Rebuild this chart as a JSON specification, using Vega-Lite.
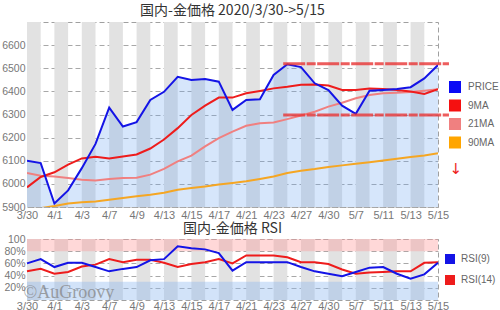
{
  "$schema": "https://vega.github.io/schema/vega-lite/v6.json",
  "background": "white",
  "padding": {"left": 0, "top": 3, "right": 0, "bottom": 0},
  "config": {
    "font": "Liberation Sans",
    "view": {"stroke": "#a0a0a0", "strokeDash": [5, 3], "strokeWidth": 1},
    "axis": {"labelColor": "#777777", "labelFontSize": 11, "ticks": false, "domain": false, "grid": false, "title": null, "labelFont": "Liberation Sans", "labelOverlap": false},
    "title": {"font": "Noto Sans CJK JP", "fontSize": 14, "fontWeight": "normal", "color": "#333333", "anchor": "middle"},
    "legend": {"padding": 0, "labelColor": "#666666", "labelFontSize": 10, "labelFont": "Liberation Sans"},
    "concat": {"spacing": 0}
  },
  "datasets": {
    "days": [
      {"i": 0, "d": "3/30", "PRICE": 6100, "9MA": 5985, "21MA": 6047, "90MA": 5885, "RSI(9)": 60, "RSI(14)": 47},
      {"i": 1, "d": "3/31", "PRICE": 6090, "9MA": 6030, "21MA": 6035, "90MA": 5895, "RSI(9)": 67, "RSI(14)": 51},
      {"i": 2, "d": "4/1", "PRICE": 5915, "9MA": 6050, "21MA": 6032, "90MA": 5904, "RSI(9)": 54, "RSI(14)": 43},
      {"i": 3, "d": "4/2", "PRICE": 5972, "9MA": 6083, "21MA": 6025, "90MA": 5915, "RSI(9)": 61, "RSI(14)": 46},
      {"i": 4, "d": "4/3", "PRICE": 6068, "9MA": 6110, "21MA": 6018, "90MA": 5921, "RSI(9)": 61, "RSI(14)": 55},
      {"i": 5, "d": "4/6", "PRICE": 6173, "9MA": 6117, "21MA": 6015, "90MA": 5924, "RSI(9)": 54, "RSI(14)": 58},
      {"i": 6, "d": "4/7", "PRICE": 6330, "9MA": 6110, "21MA": 6021, "90MA": 5931, "RSI(9)": 47, "RSI(14)": 67},
      {"i": 7, "d": "4/8", "PRICE": 6248, "9MA": 6118, "21MA": 6025, "90MA": 5939, "RSI(9)": 51, "RSI(14)": 62},
      {"i": 8, "d": "4/9", "PRICE": 6267, "9MA": 6127, "21MA": 6027, "90MA": 5946, "RSI(9)": 54, "RSI(14)": 66},
      {"i": 9, "d": "4/10", "PRICE": 6363, "9MA": 6153, "21MA": 6040, "90MA": 5953, "RSI(9)": 65, "RSI(14)": 66},
      {"i": 10, "d": "4/13", "PRICE": 6398, "9MA": 6192, "21MA": 6065, "90MA": 5962, "RSI(9)": 67, "RSI(14)": 61},
      {"i": 11, "d": "4/14", "PRICE": 6463, "9MA": 6241, "21MA": 6097, "90MA": 5975, "RSI(9)": 88, "RSI(14)": 54},
      {"i": 12, "d": "4/15", "PRICE": 6449, "9MA": 6298, "21MA": 6122, "90MA": 5982, "RSI(9)": 85, "RSI(14)": 59},
      {"i": 13, "d": "4/16", "PRICE": 6453, "9MA": 6338, "21MA": 6162, "90MA": 5989, "RSI(9)": 83, "RSI(14)": 62},
      {"i": 14, "d": "4/17", "PRICE": 6442, "9MA": 6373, "21MA": 6198, "90MA": 5997, "RSI(9)": 77, "RSI(14)": 67},
      {"i": 15, "d": "4/20", "PRICE": 6320, "9MA": 6373, "21MA": 6226, "90MA": 6004, "RSI(9)": 48, "RSI(14)": 60},
      {"i": 16, "d": "4/21", "PRICE": 6363, "9MA": 6392, "21MA": 6251, "90MA": 6011, "RSI(9)": 62, "RSI(14)": 73},
      {"i": 17, "d": "4/22", "PRICE": 6366, "9MA": 6402, "21MA": 6262, "90MA": 6021, "RSI(9)": 62, "RSI(14)": 73},
      {"i": 18, "d": "4/23", "PRICE": 6471, "9MA": 6413, "21MA": 6265, "90MA": 6032, "RSI(9)": 62, "RSI(14)": 73},
      {"i": 19, "d": "4/24", "PRICE": 6517, "9MA": 6420, "21MA": 6280, "90MA": 6047, "RSI(9)": 62, "RSI(14)": 70},
      {"i": 20, "d": "4/27", "PRICE": 6505, "9MA": 6429, "21MA": 6296, "90MA": 6057, "RSI(9)": 54, "RSI(14)": 62},
      {"i": 21, "d": "4/28", "PRICE": 6435, "9MA": 6430, "21MA": 6312, "90MA": 6064, "RSI(9)": 47, "RSI(14)": 62},
      {"i": 22, "d": "4/30", "PRICE": 6406, "9MA": 6425, "21MA": 6334, "90MA": 6073, "RSI(9)": 43, "RSI(14)": 59},
      {"i": 23, "d": "5/1", "PRICE": 6338, "9MA": 6406, "21MA": 6351, "90MA": 6080, "RSI(9)": 39, "RSI(14)": 50},
      {"i": 24, "d": "5/7", "PRICE": 6303, "9MA": 6406, "21MA": 6370, "90MA": 6087, "RSI(9)": 46, "RSI(14)": 43},
      {"i": 25, "d": "5/8", "PRICE": 6403, "9MA": 6412, "21MA": 6384, "90MA": 6094, "RSI(9)": 53, "RSI(14)": 45},
      {"i": 26, "d": "5/11", "PRICE": 6406, "9MA": 6410, "21MA": 6392, "90MA": 6101, "RSI(9)": 54, "RSI(14)": 46},
      {"i": 27, "d": "5/12", "PRICE": 6410, "9MA": 6406, "21MA": 6394, "90MA": 6109, "RSI(9)": 43, "RSI(14)": 47},
      {"i": 28, "d": "5/13", "PRICE": 6418, "9MA": 6399, "21MA": 6397, "90MA": 6116, "RSI(9)": 35, "RSI(14)": 47},
      {"i": 29, "d": "5/14", "PRICE": 6456, "9MA": 6389, "21MA": 6403, "90MA": 6123, "RSI(9)": 42, "RSI(14)": 61},
      {"i": 30, "d": "5/15", "PRICE": 6514, "9MA": 6409, "21MA": 6409, "90MA": 6133, "RSI(9)": 61, "RSI(14)": 62}
    ],
    "bands": [
      {"a": 0, "b": 1}, {"a": 2, "b": 3}, {"a": 4, "b": 5}, {"a": 6, "b": 7}, {"a": 8, "b": 9},
      {"a": 10, "b": 11}, {"a": 12, "b": 13}, {"a": 14, "b": 15}, {"a": 16, "b": 17}, {"a": 18, "b": 19},
      {"a": 20, "b": 21}, {"a": 22, "b": 23}, {"a": 24, "b": 25}, {"a": 26, "b": 27}, {"a": 28, "b": 29}
    ],
    "levels": [
      {"lv": 6520, "from": 18.7, "to": 30.8},
      {"lv": 6298, "from": 18.7, "to": 30.8}
    ]
  },
  "resolve": {
    "scale": {"color": "independent", "x": "independent", "y": "independent"},
    "legend": {"color": "independent"}
  },
  "vconcat": [
    {
      "width": 411,
      "height": 185,
      "title": {"text": "国内-金価格 2020/3/30->5/15", "offset": 4},
      "layer": [
        {
          "data": {"name": "bands"},
          "mark": {"type": "rect", "color": "#e2e2e2"},
          "encoding": {
            "x": {"field": "a", "type": "quantitative",
              "scale": {"domain": [0, 30], "nice": false, "zero": false},
              "axis": {"values": [0, 2, 4, 6, 8, 10, 12, 14, 16, 18, 20, 22, 24, 26, 28, 30],
                "labelExpr": "['3/30','3/31','4/1','4/2','4/3','4/6','4/7','4/8','4/9','4/10','4/13','4/14','4/15','4/16','4/17','4/20','4/21','4/22','4/23','4/24','4/27','4/28','4/30','5/1','5/7','5/8','5/11','5/12','5/13','5/14','5/15'][datum.value]",
                "labelFlush": false, "labelOverlap": false, "labelPadding": 2}},
            "x2": {"field": "b"}
          }
        },
        {
          "data": {"name": "days"},
          "mark": {"type": "area", "color": "#6aa6f2", "opacity": 0.28, "clip": true},
          "encoding": {
            "x": {"field": "i", "type": "quantitative",
              "axis": {"values": [0, 2, 4, 6, 8, 10, 12, 14, 16, 18, 20, 22, 24, 26, 28, 30],
                "labelExpr": "['3/30','3/31','4/1','4/2','4/3','4/6','4/7','4/8','4/9','4/10','4/13','4/14','4/15','4/16','4/17','4/20','4/21','4/22','4/23','4/24','4/27','4/28','4/30','5/1','5/7','5/8','5/11','5/12','5/13','5/14','5/15'][datum.value]",
                "labelFlush": false, "labelOverlap": false, "labelPadding": 2}},
            "y": {"field": "PRICE", "type": "quantitative",
              "scale": {"domain": [5900, 6700], "nice": false, "zero": false},
              "axis": {"values": [5900, 6000, 6100, 6200, 6300, 6400, 6500, 6600], "format": "d", "grid": true, "labelOverlap": false,
                "gridColor": "#a8a8a8", "gridDash": [5, 3], "labelPadding": 2, "minExtent": 26, "maxExtent": 26, "labelFontSize": 10.5}}
          }
        },
        {
          "data": {"name": "days"},
          "transform": [{"fold": ["90MA", "21MA", "9MA", "PRICE"], "as": ["s", "v"]}],
          "mark": {"type": "line", "strokeWidth": 2, "clip": true},
          "encoding": {
            "x": {"field": "i", "type": "quantitative",
              "axis": {"values": [0, 2, 4, 6, 8, 10, 12, 14, 16, 18, 20, 22, 24, 26, 28, 30],
                "labelExpr": "['3/30','3/31','4/1','4/2','4/3','4/6','4/7','4/8','4/9','4/10','4/13','4/14','4/15','4/16','4/17','4/20','4/21','4/22','4/23','4/24','4/27','4/28','4/30','5/1','5/7','5/8','5/11','5/12','5/13','5/14','5/15'][datum.value]",
                "labelFlush": false, "labelOverlap": false, "labelPadding": 2}},
            "y": {"field": "v", "type": "quantitative",
              "axis": {"values": [5900, 6000, 6100, 6200, 6300, 6400, 6500, 6600], "format": "d", "grid": true, "labelOverlap": false,
                "gridColor": "#a8a8a8", "gridDash": [5, 3], "labelPadding": 2, "minExtent": 26, "maxExtent": 26, "labelFontSize": 10.5}},
            "color": {"field": "s", "type": "nominal",
              "scale": {"domain": ["PRICE", "9MA", "21MA", "90MA"], "range": ["#1414e6", "#ee1c1c", "#f08080", "#f5a623"]},
              "legend": {"title": null, "orient": "none", "legendX": 422, "legendY": 59,
                "symbolType": "square", "symbolSize": 144, "symbolStrokeWidth": 0, "rowPadding": 6.5, "labelOffset": 7,
                "encode": {"symbols": {"update": {
                  "fill": {"signal": "datum.value == 'PRICE' ? '#0a0af5' : datum.value == '9MA' ? '#f51010' : datum.value == '21MA' ? '#f08080' : '#ffa500'"},
                  "strokeWidth": {"value": 0}}}}}}
          }
        },
        {
          "data": {"name": "levels"},
          "mark": {"type": "rule", "color": "#e83535", "strokeWidth": 3, "opacity": 0.8, "strokeDash": [22, 1.5, 9, 1.5]},
          "encoding": {
            "x": {"field": "from", "type": "quantitative",
              "axis": {"values": [0, 2, 4, 6, 8, 10, 12, 14, 16, 18, 20, 22, 24, 26, 28, 30],
                "labelExpr": "['3/30','3/31','4/1','4/2','4/3','4/6','4/7','4/8','4/9','4/10','4/13','4/14','4/15','4/16','4/17','4/20','4/21','4/22','4/23','4/24','4/27','4/28','4/30','5/1','5/7','5/8','5/11','5/12','5/13','5/14','5/15'][datum.value]",
                "labelFlush": false, "labelOverlap": false, "labelPadding": 2}},
            "x2": {"field": "to"},
            "y": {"field": "lv", "type": "quantitative",
              "axis": {"values": [5900, 6000, 6100, 6200, 6300, 6400, 6500, 6600], "format": "d", "grid": true, "labelOverlap": false,
                "gridColor": "#a8a8a8", "gridDash": [5, 3], "labelPadding": 2, "minExtent": 26, "maxExtent": 26, "labelFontSize": 10.5}}
          }
        },
        {
          "data": {"values": [{}]},
          "mark": {"type": "text", "text": "↓", "color": "#ee1c1c", "fontSize": 15, "font": "DejaVu Sans", "baseline": "middle", "align": "center"},
          "encoding": {
            "x": {"datum": 31.3, "type": "quantitative",
              "axis": {"values": [0, 2, 4, 6, 8, 10, 12, 14, 16, 18, 20, 22, 24, 26, 28, 30],
                "labelExpr": "['3/30','3/31','4/1','4/2','4/3','4/6','4/7','4/8','4/9','4/10','4/13','4/14','4/15','4/16','4/17','4/20','4/21','4/22','4/23','4/24','4/27','4/28','4/30','5/1','5/7','5/8','5/11','5/12','5/13','5/14','5/15'][datum.value]",
                "labelFlush": false, "labelOverlap": false, "labelPadding": 2}},
            "y": {"datum": 6064, "type": "quantitative",
              "axis": {"values": [5900, 6000, 6100, 6200, 6300, 6400, 6500, 6600], "format": "d", "grid": true, "labelOverlap": false,
                "gridColor": "#a8a8a8", "gridDash": [5, 3], "labelPadding": 2, "minExtent": 26, "maxExtent": 26, "labelFontSize": 10.5}}
          }
        }
      ]
    },
    {
      "width": 411,
      "height": 61,
      "title": {"text": "国内-金価格 RSI", "offset": -2},
      "layer": [
        {
          "data": {"name": "bands"},
          "mark": {"type": "rect", "color": "#e2e2e2"},
          "encoding": {
            "x": {"field": "a", "type": "quantitative",
              "scale": {"domain": [0, 30], "nice": false, "zero": false},
              "axis": {"values": [0, 2, 4, 6, 8, 10, 12, 14, 16, 18, 20, 22, 24, 26, 28, 30],
                "labelExpr": "['3/30','3/31','4/1','4/2','4/3','4/6','4/7','4/8','4/9','4/10','4/13','4/14','4/15','4/16','4/17','4/20','4/21','4/22','4/23','4/24','4/27','4/28','4/30','5/1','5/7','5/8','5/11','5/12','5/13','5/14','5/15'][datum.value]",
                "labelFlush": false, "labelOverlap": false, "labelPadding": 0}},
            "x2": {"field": "b"}
          }
        },
        {
          "data": {"values": [{"lo": 80, "hi": 100}]},
          "mark": {"type": "rect", "color": "#ff8f8f", "opacity": 0.35},
          "encoding": {
            "y": {"field": "lo", "type": "quantitative",
              "scale": {"domain": [0, 100], "nice": false},
              "axis": {"values": [20, 40, 60, 80, 100], "labelExpr": "datum.value == 100 ? '100' : datum.value + '%'", "labelOverlap": false,
                "grid": true, "gridColor": "#a8a8a8", "gridDash": [5, 3], "labelPadding": 2, "minExtent": 26, "maxExtent": 26, "labelFontSize": 10.5}},
            "y2": {"field": "hi"}
          }
        },
        {
          "data": {"values": [{"lo": 0, "hi": 30}]},
          "mark": {"type": "rect", "color": "#8fbaf0", "opacity": 0.4},
          "encoding": {
            "y": {"field": "lo", "type": "quantitative",
              "axis": {"values": [20, 40, 60, 80, 100], "labelExpr": "datum.value == 100 ? '100' : datum.value + '%'", "labelOverlap": false,
                "grid": true, "gridColor": "#a8a8a8", "gridDash": [5, 3], "labelPadding": 2, "minExtent": 26, "maxExtent": 26, "labelFontSize": 10.5}},
            "y2": {"field": "hi"}
          }
        },
        {
          "data": {"name": "days"},
          "transform": [{"fold": ["RSI(14)", "RSI(9)"], "as": ["s", "v"]}],
          "mark": {"type": "line", "strokeWidth": 2},
          "encoding": {
            "x": {"field": "i", "type": "quantitative",
              "axis": {"values": [0, 2, 4, 6, 8, 10, 12, 14, 16, 18, 20, 22, 24, 26, 28, 30],
                "labelExpr": "['3/30','3/31','4/1','4/2','4/3','4/6','4/7','4/8','4/9','4/10','4/13','4/14','4/15','4/16','4/17','4/20','4/21','4/22','4/23','4/24','4/27','4/28','4/30','5/1','5/7','5/8','5/11','5/12','5/13','5/14','5/15'][datum.value]",
                "labelFlush": false, "labelOverlap": false, "labelPadding": 0}},
            "y": {"field": "v", "type": "quantitative",
              "axis": {"values": [20, 40, 60, 80, 100], "labelExpr": "datum.value == 100 ? '100' : datum.value + '%'", "labelOverlap": false,
                "grid": true, "gridColor": "#a8a8a8", "gridDash": [5, 3], "labelPadding": 2, "minExtent": 26, "maxExtent": 26, "labelFontSize": 10.5}},
            "color": {"field": "s", "type": "nominal",
              "scale": {"domain": ["RSI(9)", "RSI(14)"], "range": ["#1414e6", "#ee1c1c"]},
              "legend": {"title": null, "orient": "none", "legendX": 418, "legendY": 15,
                "symbolType": "square", "symbolSize": 25, "symbolStrokeWidth": 5, "rowPadding": -5, "labelOffset": 6}}
          }
        },
        {
          "data": {"values": [{}]},
          "mark": {"type": "text", "text": "©AuGroovy", "font": "Liberation Serif", "fontSize": 18, "color": "#808080", "opacity": 0.7, "align": "left", "baseline": "alphabetic"},
          "encoding": {
            "x": {"datum": -0.25, "type": "quantitative",
              "axis": {"values": [0, 2, 4, 6, 8, 10, 12, 14, 16, 18, 20, 22, 24, 26, 28, 30],
                "labelExpr": "['3/30','3/31','4/1','4/2','4/3','4/6','4/7','4/8','4/9','4/10','4/13','4/14','4/15','4/16','4/17','4/20','4/21','4/22','4/23','4/24','4/27','4/28','4/30','5/1','5/7','5/8','5/11','5/12','5/13','5/14','5/15'][datum.value]",
                "labelFlush": false, "labelOverlap": false, "labelPadding": 0}},
            "y": {"datum": 4, "type": "quantitative",
              "axis": {"values": [20, 40, 60, 80, 100], "labelExpr": "datum.value == 100 ? '100' : datum.value + '%'", "labelOverlap": false,
                "grid": true, "gridColor": "#a8a8a8", "gridDash": [5, 3], "labelPadding": 2, "minExtent": 26, "maxExtent": 26, "labelFontSize": 10.5}}
          }
        }
      ]
    }
  ]
}
